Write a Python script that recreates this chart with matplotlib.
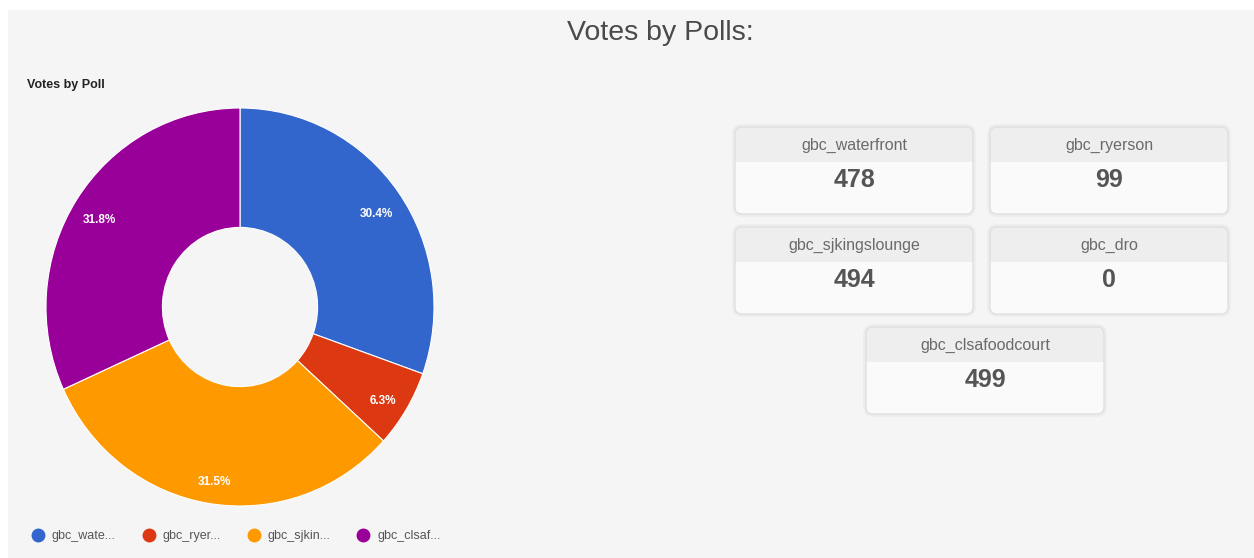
import matplotlib
matplotlib.use("Agg")
import matplotlib.pyplot as plt
from matplotlib.patches import FancyBboxPatch, Rectangle
from matplotlib.lines import Line2D

plt.rcParams['font.family'] = ['Liberation Sans', 'DejaVu Sans']

# pie data (gbc_dro has 0 votes and is not drawn in the pie)
pie_names = ["gbc_waterfront", "gbc_ryerson", "gbc_sjkingslounge", "gbc_clsafoodcourt"]
pie_votes = [478, 99, 494, 499]
legend_labels = ["gbc_wate...", "gbc_ryer...", "gbc_sjkin...", "gbc_clsaf..."]
pie_colors = ["#3366cc", "#dc3912", "#ff9900", "#990099"]

# score cards
card_names = ["gbc_waterfront", "gbc_ryerson", "gbc_sjkingslounge", "gbc_dro", "gbc_clsafoodcourt"]
card_values = [478, 99, 494, 0, 499]

W, H = 1254, 558
fig = plt.figure(figsize=(W / 100, H / 100), dpi=100, facecolor="white")

# background / overlay axes in pixel coordinates
bg = fig.add_axes([0, 0, 1, 1], zorder=0)
bg.set_xlim(0, W)
bg.set_ylim(H, 0)
bg.axis("off")
bg.add_patch(Rectangle((8, 10), W - 8, H - 10, facecolor="#f5f5f5", edgecolor="none"))

bg.text(660, 33, "Votes by Polls:", ha="center", va="center", fontsize=20.5, color="#4a4a4a")
bg.text(27, 85, "Votes by Poll", ha="left", va="center", fontsize=9, fontweight="bold", color="#222222")

# card layout (x, y of top-left corner in pixels)
card_pos = [(735, 127), (990, 127), (735, 227), (990, 227), (866, 327)]
cw, ch, hh = 238, 87, 35
for (x, y), name, val in zip(card_pos, card_names, card_values):
    # soft shadow
    bg.add_patch(FancyBboxPatch((x - 1, y - 1), cw + 2, ch + 2, boxstyle="round,pad=0,rounding_size=8",
                                facecolor="none", edgecolor="#ececec", linewidth=2.5))
    card = FancyBboxPatch((x, y), cw, ch, boxstyle="round,pad=0,rounding_size=7",
                          facecolor="#fafafa", edgecolor="none")
    bg.add_patch(card)
    head = Rectangle((x, y), cw, hh, facecolor="#eeeeee", edgecolor="none")
    bg.add_patch(head)
    head.set_clip_path(card)
    bg.add_patch(FancyBboxPatch((x, y), cw, ch, boxstyle="round,pad=0,rounding_size=7",
                                facecolor="none", edgecolor="#dedede", linewidth=0.9))
    bg.text(x + cw / 2, y + 18, name, ha="center", va="center", fontsize=11.5, color="#6a6a6a")
    bg.text(x + cw / 2, y + 53, str(val), ha="center", va="center", fontsize=18,
            fontweight="bold", color="#555555")

# donut
cx, cy, rx, ry = 240, 307, 194, 199
ax = fig.add_axes([(cx - rx) / W, (H - cy - ry) / H, 2 * rx / W, 2 * ry / H], zorder=1)
ax.patch.set_alpha(0)
wedges, texts, autotexts = ax.pie(
    pie_votes, colors=pie_colors, startangle=90, counterclock=False,
    autopct="%1.1f%%", pctdistance=0.86,
    wedgeprops=dict(width=0.6, edgecolor="white", linewidth=0.8),
    textprops=dict(color="white", fontsize=8.5, fontweight="bold"))
for t in autotexts:
    px, py = t.get_position()
    t.set_position((px, py - 0.03))
ax.set_aspect("auto")
ax.set_xlim(-1, 1)
ax.set_ylim(-1, 1)
ax.axis("off")

handles = [Line2D([0], [0], marker="o", linestyle="none", markersize=9,
                  markerfacecolor=c, markeredgecolor=c) for c in pie_colors]
fig.legend(handles, legend_labels, loc="center left", bbox_to_anchor=(14 / W, 1 - 536 / H),
           ncol=4, frameon=False, fontsize=9, handletextpad=0.1, columnspacing=1.65,
           labelcolor="#555555")

fig.savefig("out.png", dpi=100, facecolor=fig.get_facecolor())
